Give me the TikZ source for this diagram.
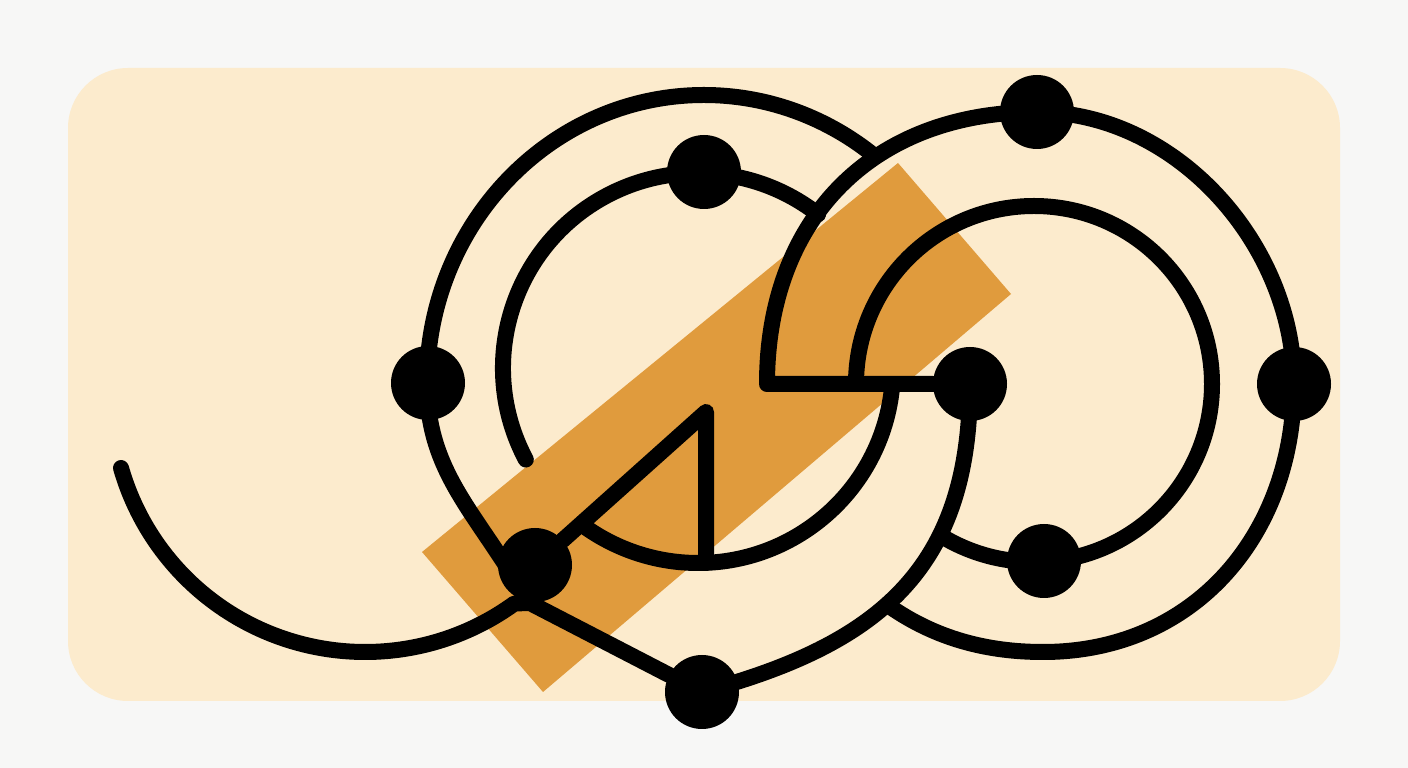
\documentclass[tikz,border=0pt]{standalone}
\usepackage{tikz}
\usetikzlibrary{backgrounds}
\definecolor{paper}{HTML}{F7F7F6}
\definecolor{cream}{HTML}{FCEBCD}
\definecolor{ochre}{HTML}{E09B3D}
\tikzset{
  x=1pt, y=1pt,
  wire/.style={line width=16pt, line cap=round, line join=round},
  dot/.style={circle, fill=black, minimum size=74pt, inner sep=0pt}
}

\begin{document}
\begin{tikzpicture}
    \useasboundingbox (0,0) rectangle (1408,768);
    \node[dot] (dL) at (428,385) {};
    \node[dot] (dT) at (704,596) {};
    \node[dot] (dRT) at (1037,656) {};
    \node[dot] (dRR) at (1294,384) {};
    \node[dot] (dRM) at (970,384) {};
    \node[dot] (dRB) at (1044,207) {};
    \node[dot] (dBL) at (535,203) {};
    \node[dot] (dB) at (702,76) {};
    \coordinate (tail) at (121,300);
    \coordinate (J) at (530,165);
    \coordinate (apex) at (706,356);
    \coordinate (foot) at (706,205);
    \coordinate (corner) at (767,384);
    \coordinate (cut) at (889,162);
    \begin{scope}[on background layer]
      \fill[paper] (0,0) rectangle (1408,768);
      \fill[cream, rounded corners=60pt] (68,67) rectangle (1340,700);
      \fill[ochre] (898,605) -- (1011,474) -- (543,76) -- (422,216) -- cycle;
      \draw[wire] (512,193) to[out=122, in=-90] (427,385)
        arc[start angle=180, end angle=53, x radius=277, y radius=288];
      \draw[wire] (698,400) ++(208:195) arc[start angle=208, end angle=52, radius=195];
      \draw[wire] (698,400) ++(-5:195) arc[start angle=-5, end angle=-125, radius=195];
      \draw[wire] (dBL) -- (apex) -- (foot);
      \draw[wire] (tail) arc[start angle=196, end angle=306, radius=254] -- (J) -- (dB);
      \draw[wire] (1034,384) ++(180:178) arc[start angle=180, end angle=-121, radius=178];
      \draw[wire] (cut) to[out=-35, in=180, looseness=0.9] (1043,116)
        to[out=0, in=-90, looseness=1.05] (dRR.center)
        to[out=90, in=0, looseness=0.95] (dRT.center)
        to[out=180, in=90, looseness=1.1] (corner) -- (dRM);
      \draw[wire] (dB.center) to[out=15, in=-90, looseness=1.15] (dRM.center);
    \end{scope}
\end{tikzpicture}
\end{document}
